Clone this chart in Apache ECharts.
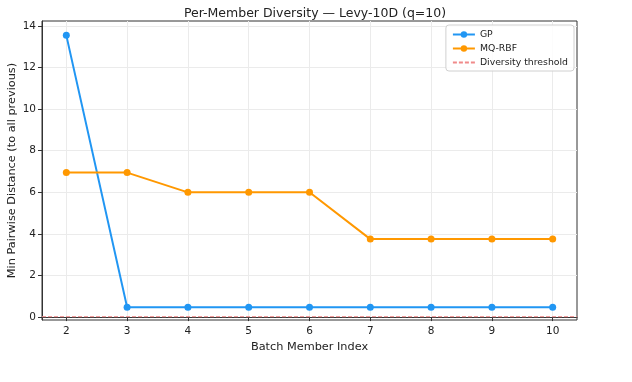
<!DOCTYPE html>
<html>
<head>
<meta charset="utf-8">
<script src="https://cdn.jsdelivr.net/npm/echarts@6/dist/echarts.min.js"></script>
<style>
  html, body { margin: 0; padding: 0; background: #fff; }
  #chart { width: 632px; height: 382px; }
</style>
</head>
<body>
<div id="chart"></div>
<script>
// batch member index (x)
const memberIdx = [2, 3, 4, 5, 6, 7, 8, 9, 10];
// min pairwise distance per member
const gpVals = [13.55, 0.47, 0.47, 0.47, 0.47, 0.47, 0.47, 0.47, 0.47];
const mqVals = [6.95, 6.95, 6.0, 6.0, 6.0, 3.75, 3.75, 3.75, 3.75];
const threshold = 0.02;
// tick labels
const xTicks = [2, 3, 4, 5, 6, 7, 8, 9, 10];
const yTicks = [0, 2, 4, 6, 8, 10, 12, 14];
// axis ranges (matplotlib-style margins)
const xRange = [1.6, 10.4];
const yRange = [-0.14, 14.24];

const font = 'DejaVu Sans';
const pair = (xs, ys) => xs.map((x, i) => [x, ys[i]]);

const chart = echarts.init(document.getElementById('chart'));
chart.setOption({
  animation: false,
  backgroundColor: '#fff',
  textStyle: { fontFamily: font },
  title: {
    text: 'Per-Member Diversity — Levy-10D (q=10)',
    left: 310, textAlign: 'center', top: 2,
    textStyle: { fontFamily: font, fontSize: 12.5, fontWeight: 'normal', color: '#222' }
  },
  grid: {
    left: 42, right: 55, top: 21, bottom: 62,
    outerBoundsMode: 'none', containLabel: false,
    show: true, borderColor: '#333', borderWidth: 1, backgroundColor: 'transparent'
  },
  legend: {
    orient: 'vertical', right: 58, top: 25,
    itemWidth: 22, itemHeight: 8, itemGap: 5,
    padding: [5, 6, 4, 6],
    borderColor: '#d0d0d0', borderWidth: 1, borderRadius: 3,
    backgroundColor: 'rgba(255,255,255,0.85)',
    textStyle: { fontFamily: font, fontSize: 9.3, color: '#222' },
    data: ['GP', 'MQ-RBF', { name: 'Diversity threshold', itemStyle: { opacity: 0 } }]
  },
  xAxis: {
    type: 'value', min: xRange[0], max: xRange[1],
    name: 'Batch Member Index', nameLocation: 'middle', nameGap: 22,
    nameMoveOverlap: false,
    nameTextStyle: { fontFamily: font, fontSize: 11.3, color: '#222' },
    axisLine: { show: true, lineStyle: { color: '#333' } },
    axisTick: { show: true, length: 4, customValues: xTicks, lineStyle: { color: '#333' } },
    axisLabel: { customValues: xTicks, fontSize: 10.5, color: '#222', margin: 6 },
    splitLine: { show: true, lineStyle: { color: '#ebebeb' } }
  },
  yAxis: {
    type: 'value', min: yRange[0], max: yRange[1],
    name: 'Min Pairwise Distance (to all previous)', nameLocation: 'middle', nameGap: 24,
    nameMoveOverlap: false,
    nameTextStyle: { fontFamily: font, fontSize: 11.3, color: '#222' },
    axisLine: { show: true, lineStyle: { color: '#333' } },
    axisTick: { show: true, length: 4, customValues: yTicks, lineStyle: { color: '#333' } },
    axisLabel: { customValues: yTicks, fontSize: 10.5, color: '#222', margin: 6 },
    splitLine: { show: true, lineStyle: { color: '#ebebeb' } }
  },
  series: [
    {
      name: 'GP', type: 'line', data: pair(memberIdx, gpVals),
      symbol: 'circle', symbolSize: 7, color: '#2196F3',
      lineStyle: { width: 2 }, z: 3
    },
    {
      name: 'MQ-RBF', type: 'line', data: pair(memberIdx, mqVals),
      symbol: 'circle', symbolSize: 7, color: '#FF9800',
      lineStyle: { width: 2 }, z: 3
    },
    {
      name: 'Diversity threshold', type: 'line',
      data: [[xRange[0], threshold], [xRange[1], threshold]],
      symbol: 'none', color: '#f08a8a',
      lineStyle: { width: 1, type: [4, 2] }, z: 2
    }
  ]
});
</script>
</body>
</html>
